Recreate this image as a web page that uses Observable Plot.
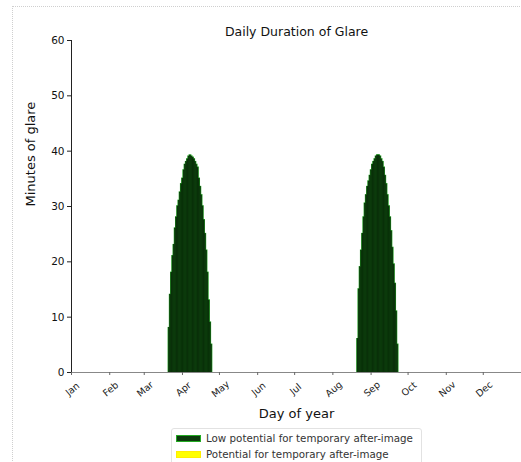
<!DOCTYPE html>
<html>
<head>
<meta charset="utf-8">
<script src="https://cdn.jsdelivr.net/npm/d3@7"></script>
<script src="https://cdn.jsdelivr.net/npm/@observablehq/plot@0.6"></script>
<style>
  body { margin: 0; background: #fff; font-family: "DejaVu Sans", sans-serif; }
  #wrap { position: relative; width: 521px; height: 462px; overflow: hidden; background: #fff; }
  #frame { position: absolute; left: 12px; top: 6px; right: -5px; bottom: -5px; border-left: 1px dotted #cfcfcf; border-top: 1px dotted #cfcfcf; pointer-events: none; }
  #legend { position: absolute; left: 171px; top: 428px; width: 249px; height: 44px; border: 1px solid #e2e2e2; border-radius: 3px; background: #fff; font-size: 10.3px; color: #333; }
  .row { position: absolute; left: 4px; height: 10px; display: flex; align-items: center; white-space: nowrap; }
  .sw { width: 25px; height: 7px; margin-right: 5px; box-sizing: border-box; }
</style>
</head>
<body>
<div id="wrap">
  <div id="chart"></div>
  <div id="frame"></div>
  <div id="legend"></div>
</div>
<script>
// ---- data ----
const titleText = "Daily Duration of Glare";
const xLabel = "Day of year";
const yLabel = "Minutes of glare";
const monthLabels = ["Jan","Feb","Mar","Apr","May","Jun","Jul","Aug","Sep","Oct","Nov","Dec"];
const monthStartDays = [1,32,60,91,121,152,182,213,244,274,305,335];
const yTicks = [0,10,20,30,40,50,60];

// spring glare window: days 80..114
const springStartDay = 80;
const springMinutes = [8,14,18,21,23,26,28,30,31,32.5,34,35,36.5,37.5,38,38.5,39,39.2,39,38.8,38.5,38,37.5,37,35,33.5,32,30,27.5,25,22,18,13,9,5];
// late-summer glare window: days 233..265
const autumnStartDay = 233;
const autumnMinutes = [6,15,19,22,25,28,30.5,32,33.5,34.5,35.5,36.5,37.5,38,38.5,39,39.2,39.2,39,38.5,38,37,35.5,34,32,30,28,25.5,22.5,19.5,16,11,5];

const legendLabels = ["Low potential for temporary after-image", "Potential for temporary after-image"];
const legendFills = ["#0c3a0c", "#ffff00"];
const legendStrokes = ["#22aa22", "#ffee00"];

// ---- build table ----
const glare = [];
springMinutes.forEach((m, i) => glare.push({day: springStartDay + i, minutes: m}));
autumnMinutes.forEach((m, i) => glare.push({day: autumnStartDay + i, minutes: m}));
const months = monthStartDays.map((d, i) => ({day: d, label: monthLabels[i]}));

const chart = Plot.plot({
  width: 521,
  height: 462,
  marginLeft: 71,
  marginRight: 0,
  marginTop: 40,
  marginBottom: 90,
  style: {fontFamily: "DejaVu Sans, sans-serif", background: "transparent"},
  x: {type: "linear", domain: [1, 366], label: null},
  y: {type: "linear", domain: [0, 60], label: null},
  marks: [
    // green halo (edge colour) then dark fill on top
    Plot.rectY(glare, {x1: "day", x2: d => d.day + 1, y: "minutes", fill: "#1f9a1f", stroke: "#1f9a1f", strokeWidth: 1.6}),
    Plot.rectY(glare, {x1: "day", x2: d => d.day + 1, y: "minutes", fill: "#0b320b", stroke: "#0b320b", strokeWidth: 0.4}),
    Plot.ruleY([0], {stroke: "#888", strokeWidth: 1}),
    Plot.ruleX([1], {stroke: "#222", strokeWidth: 1}),
    Plot.axisX(monthStartDays, {tickSize: 3, tickFormat: () => "", stroke: "#666", label: null}),
    Plot.axisY(yTicks, {tickSize: 4, tickPadding: 3, fontSize: 10.5, fill: "#111", stroke: "#222", label: null}),
    Plot.text(months, {x: "day", frameAnchor: "bottom", dy: 19, dx: 3, rotate: -40, text: "label", fontSize: 9.5, fill: "#222", textAnchor: "middle"}),
    Plot.text([titleText], {frameAnchor: "top", dy: -13, fontSize: 12.5, fill: "#111"}),
    Plot.text([xLabel], {frameAnchor: "bottom", dy: 45, fontSize: 13, fill: "#111"}),
    Plot.text([yLabel], {frameAnchor: "left", dx: -41, rotate: -90, fontSize: 13, fill: "#111"})
  ]
});
document.getElementById("chart").appendChild(chart);

const legend = document.getElementById("legend");
legendLabels.forEach((lab, i) => {
  const row = document.createElement("div");
  row.className = "row";
  row.style.top = (4 + i * 16) + "px";
  const sw = document.createElement("div");
  sw.className = "sw";
  sw.style.background = legendFills[i];
  sw.style.border = "1px solid " + legendStrokes[i];
  const t = document.createElement("span");
  t.textContent = lab;
  row.appendChild(sw);
  row.appendChild(t);
  legend.appendChild(row);
});
</script>
</body>
</html>
